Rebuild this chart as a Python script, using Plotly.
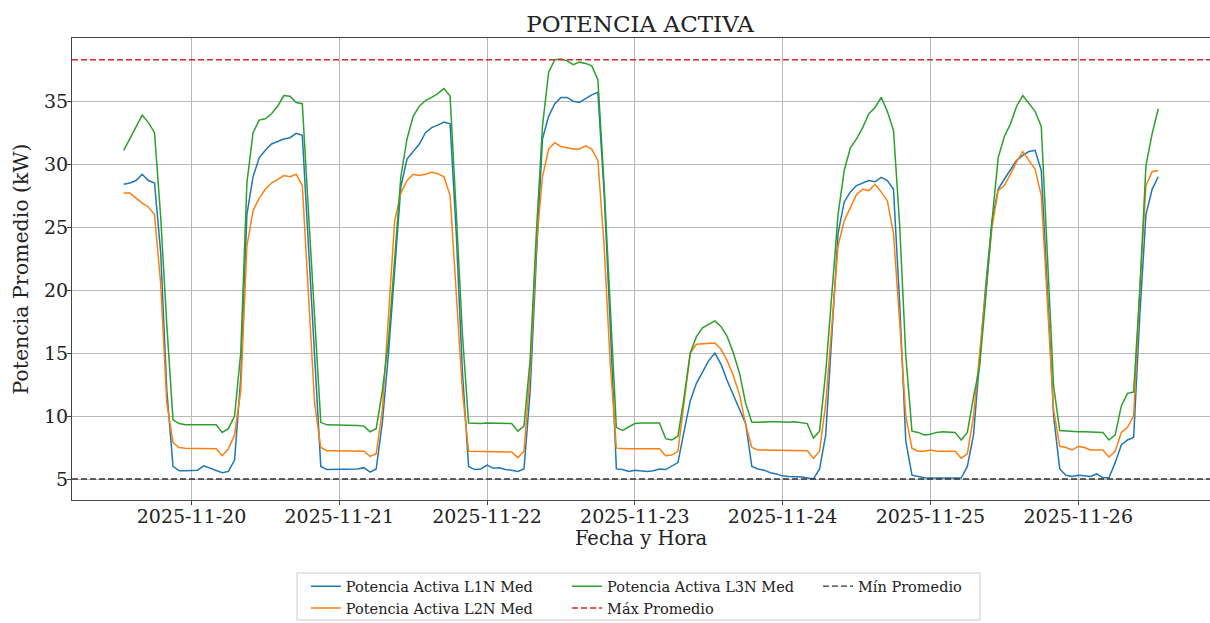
import pandas as pd
import plotly.graph_objects as go

# ---------------- data (hourly, starting 2025-11-19 13:00) ----------------
start_time = "2025-11-19 13:00"

l1n_med = [
    28.4, 28.5, 28.7, 29.2, 28.7, 28.5, 23.0, 12.0, 6.0, 5.65, 5.65,
    5.7, 5.7, 6.05, 5.85, 5.7, 5.5, 5.6, 6.5, 13.0, 26.0, 29.0, 30.5, 31.1, 31.6, 31.8, 32.0, 32.1, 32.45, 32.3, 23.5, 14.0, 6.0, 5.75, 5.75,
    5.75, 5.75, 5.75, 5.8, 5.9, 5.55, 5.8, 9.5, 15.0, 21.5, 28.2, 30.4, 31.0, 31.6, 32.5, 32.9, 33.1, 33.35, 33.2, 24.5, 13.5, 6.0, 5.75, 5.8,
    6.1, 5.85, 5.9, 5.75, 5.7, 5.6, 5.8, 12.0, 22.5, 32.0, 33.8, 34.8, 35.3, 35.3, 35.0, 34.9, 35.2, 35.5, 35.7, 27.8, 17.3, 5.8, 5.75, 5.6,
    5.7, 5.65, 5.6, 5.65, 5.8, 5.75, 6.05, 6.3, 8.8, 11.2, 12.6, 13.5, 14.4, 15.0, 14.1, 12.8, 11.7, 10.6, 9.4, 6.0, 5.8, 5.7, 5.5, 5.4,
    5.25, 5.2, 5.2, 5.15, 5.1, 5.0, 5.8, 8.5, 16.5, 24.5, 27.0, 27.8, 28.3, 28.5, 28.7, 28.6, 28.95, 28.7, 28.0, 19.0, 8.0, 5.3, 5.2, 5.1,
    5.07, 5.07, 5.1, 5.1, 5.07, 5.07, 6.0, 8.5, 14.5, 20.5, 25.5, 28.0, 28.8, 29.6, 30.3, 30.7, 31.0, 31.1, 29.5, 20.0, 10.0, 5.8, 5.3, 5.2,
    5.3, 5.25, 5.2, 5.4, 5.1, 5.1, 6.3, 7.7, 8.1, 8.3, 18.0, 26.0, 28.0, 29.0,
]

l2n_med = [
    27.7, 27.7, 27.3, 26.9, 26.6, 26.0, 20.5, 11.0, 7.9, 7.5, 7.45,
    7.45, 7.45, 7.45, 7.45, 7.4, 6.85, 7.4, 8.5, 12.0, 23.5, 26.3, 27.3, 28.0, 28.5, 28.8, 29.1, 29.0, 29.2, 28.3, 19.3, 11.0, 7.5, 7.25, 7.25,
    7.25, 7.25, 7.25, 7.25, 7.2, 6.8, 7.0, 10.5, 18.0, 25.5, 27.7, 28.7, 29.2, 29.1, 29.2, 29.35, 29.25, 29.0, 27.5, 19.4, 12.0, 7.2, 7.2, 7.2,
    7.2, 7.2, 7.2, 7.2, 7.15, 6.7, 7.2, 13.5, 23.5, 29.0, 31.2, 31.7, 31.4, 31.3, 31.2, 31.2, 31.45, 31.2, 30.3, 23.6, 14.2, 7.45, 7.4, 7.4,
    7.4, 7.4, 7.4, 7.4, 7.4, 6.85, 6.9, 7.2, 11.0, 15.0, 15.7, 15.75, 15.8, 15.8, 15.3, 14.4, 13.2, 11.7, 9.3, 7.5, 7.3, 7.3, 7.3, 7.3,
    7.3, 7.3, 7.3, 7.3, 7.25, 6.65, 7.2, 11.0, 17.0, 23.5, 25.5, 26.5, 27.6, 28.0, 27.9, 28.4, 27.8, 27.1, 24.5, 17.5, 10.0, 7.45, 7.2, 7.2,
    7.3, 7.2, 7.2, 7.2, 7.2, 6.65, 7.0, 10.0, 15.0, 20.5, 25.0, 27.9, 28.3, 29.2, 30.2, 31.0, 30.3, 29.6, 27.5, 19.0, 10.5, 7.6, 7.5, 7.3,
    7.6, 7.5, 7.3, 7.3, 7.3, 6.75, 7.2, 8.7, 9.1, 10.0, 20.0, 28.3, 29.4, 29.5,
]

l3n_med = [
    31.1, 32.0, 33.0, 33.9, 33.3, 32.5, 25.8, 17.2, 9.7, 9.4, 9.3,
    9.3, 9.3, 9.3, 9.3, 9.3, 8.7, 9.0, 10.0, 15.0, 28.5, 32.5, 33.5, 33.6, 34.0, 34.6, 35.45, 35.4, 34.9, 34.8, 26.2, 17.6, 9.5, 9.3, 9.3,
    9.3, 9.3, 9.3, 9.25, 9.2, 8.75, 9.0, 12.0, 16.0, 22.5, 29.0, 32.0, 33.8, 34.6, 35.05, 35.3, 35.6, 36.0, 35.4, 26.1, 16.5, 9.45, 9.4, 9.4,
    9.45, 9.45, 9.45, 9.45, 9.4, 8.8, 9.2, 14.5, 24.5, 33.0, 37.3, 38.3, 38.35, 38.2, 37.9, 38.1, 38.0, 37.8, 36.7, 28.45, 18.9, 9.1, 8.85, 9.1,
    9.4, 9.45, 9.45, 9.45, 9.45, 8.2, 8.1, 8.4, 11.5, 15.0, 16.3, 17.0, 17.3, 17.55, 17.1, 16.3, 15.0, 13.4, 11.0, 9.5, 9.5, 9.55, 9.55, 9.55,
    9.5, 9.5, 9.55, 9.5, 9.4, 8.25, 8.8, 13.5, 20.0, 26.0, 29.5, 31.3, 32.0, 32.9, 34.0, 34.5, 35.3, 34.2, 32.7, 25.2, 14.8, 8.8, 8.7, 8.5,
    8.55, 8.7, 8.75, 8.75, 8.7, 8.1, 8.7, 11.5, 14.0, 19.5, 25.5, 30.5, 32.2, 33.2, 34.6, 35.45, 34.8, 34.2, 33.0, 22.7, 12.4, 8.85, 8.8, 8.75,
    8.75, 8.75, 8.75, 8.75, 8.7, 8.1, 8.5, 10.8, 11.8, 11.9, 20.0, 29.9, 32.4, 34.4,
]

max_promedio = 38.3
min_promedio = 5.0

series_names = ["Potencia Activa L1N Med", "Potencia Activa L2N Med", "Potencia Activa L3N Med"]
x_tick_labels = ["2025-11-20", "2025-11-21", "2025-11-22", "2025-11-23",
                 "2025-11-24", "2025-11-25", "2025-11-26"]
y_tick_values = [5, 10, 15, 20, 25, 30, 35]

# ---------------- figure ----------------
times = pd.date_range(start_time, periods=len(l1n_med), freq="h")
pad = (times[-1] - times[0]) * 0.05
x_lo, x_hi = times[0] - pad, times[-1] + pad
all_vals = l1n_med + l2n_med + l3n_med + [max_promedio, min_promedio]
ypad = (max(all_vals) - min(all_vals)) * 0.05
y_lo, y_hi = min(all_vals) - ypad, max(all_vals) + ypad

FONT = "DejaVu Serif"
TXT = "#222222"
colors = ["#1f77b4", "#ff7f0e", "#2ca02c"]
legends = ["legend", "legend", "legend2"]

fig = go.Figure()
for name, vals, col, lg in zip(series_names, [l1n_med, l2n_med, l3n_med], colors, legends):
    fig.add_trace(go.Scatter(x=times, y=vals, mode="lines", name=name,
                             line=dict(color=col, width=1.5), legend=lg))

fig.add_trace(go.Scatter(x=[x_lo, x_hi], y=[max_promedio, max_promedio], mode="lines",
                         name="Máx Promedio", legend="legend2",
                         line=dict(color="#d62728", width=1.5, dash="6px,3px")))
fig.add_trace(go.Scatter(x=[x_lo, x_hi], y=[min_promedio, min_promedio], mode="lines",
                         name="Mín Promedio", legend="legend3",
                         line=dict(color="#333333", width=1.3, dash="6px,3px")))

axis_common = dict(
    showgrid=True, gridcolor="#b8b8b8", gridwidth=1,
    showline=True, mirror=True, linecolor="#444444", linewidth=1,
    ticks="outside", ticklen=4, tickcolor="#444444",
    tickfont=dict(family=FONT, size=19, color=TXT),
    zeroline=False, automargin=False,
)

fig.update_layout(
    width=1210, height=623,
    margin=dict(l=72, r=0, t=38, b=123, autoexpand=False),
    paper_bgcolor="white", plot_bgcolor="white",
    font=dict(family=FONT, color=TXT),
    title=dict(text="POTENCIA ACTIVA", xref="container", x=0.529, xanchor="center",
               y=0.962, yanchor="middle",
               font=dict(family=FONT, size=23, color=TXT)),
    xaxis=dict(axis_common, type="date", range=[x_lo, x_hi],
               tickvals=pd.to_datetime(x_tick_labels), ticktext=x_tick_labels,
               ticklabelstandoff=-5,
               title=dict(text="Fecha y Hora", font=dict(family=FONT, size=19.5), standoff=4)),
    yaxis=dict(axis_common, range=[y_lo, y_hi], tickvals=y_tick_values,
               ticklabelstandoff=-5,
               title=dict(text="Potencia Promedio (kW)", font=dict(family=FONT, size=20.5), standoff=9)),
    showlegend=True,
)

leg_common = dict(orientation="v", xanchor="left", yanchor="top", y=-0.152,
                  bgcolor="rgba(0,0,0,0)", borderwidth=0,
                  font=dict(family=FONT, size=14.5, color=TXT), traceorder="normal")
fig.update_layout(
    legend=dict(leg_common, x=0.2055),
    legend2=dict(leg_common, x=0.435),
    legend3=dict(leg_common, x=0.6555),
)

fig.add_shape(type="rect", xref="paper", yref="paper",
              x0=(297 - 72) / 1138, x1=(980 - 72) / 1138,
              y0=(500 - 620) / 462, y1=(500 - 573) / 462,
              line=dict(color="#cccccc", width=1), fillcolor="rgba(0,0,0,0)")

fig.write_html("out.html", config={"displayModeBar": False},
               post_script="document.body.style.margin='0';document.body.style.overflow='hidden';")
